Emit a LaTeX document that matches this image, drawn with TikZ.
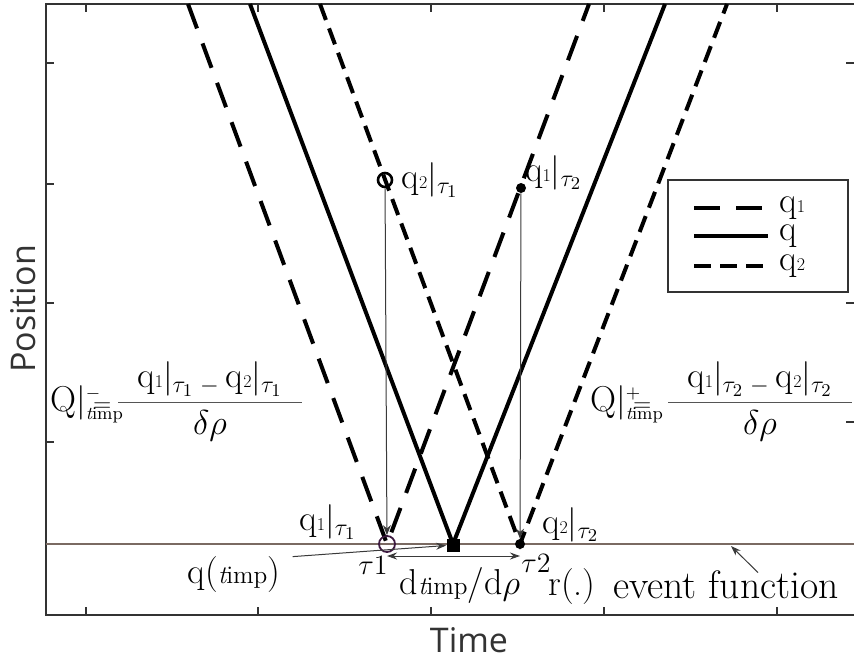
\documentclass[tikz,border=0pt]{standalone}
\usepackage{fontspec}
\usepackage{graphicx}
\usepackage{tikz}
\usetikzlibrary{arrows.meta,positioning}
\newfontfamily\axisfont{Open Sans}
\definecolor{axgray}{HTML}{333333}
\definecolor{evbrown}{HTML}{7A6A62}
\definecolor{thingray}{HTML}{3A3A3A}
\definecolor{tauplum}{HTML}{3D1A40}
\definecolor{fracgray}{HTML}{555555}
\newcommand{\qi}[1]{q\scalebox{.5}{#1}}
\newcommand{\tm}{\mathit{t}\mathrm{imp}}
\tikzset{
  axframe/.style={draw=axgray,line width=0.8pt},
  axtick/.style={draw=axgray,line width=0.6pt},
  traj/.style={line width=2pt},
  qone/.style={traj,dash pattern=on 13pt off 8pt},
  qtwo/.style={traj,dash pattern=on 8.5pt off 4.5pt},
  qsol/.style={traj},
  evline/.style={draw=evbrown,line width=1pt},
  hollow/.style={circle,draw=black,line width=1.3pt,minimum size=7pt,inner sep=0pt},
  dot/.style={circle,fill=black,minimum size=5pt,inner sep=0pt},
  sq/.style={rectangle,fill=black,minimum size=6.5pt,inner sep=0pt},
  drop/.style={draw=thingray,line width=0.5pt,-{Stealth[length=5pt,width=4pt]}},
  pointer/.style={draw=thingray,line width=0.5pt,-{Stealth[length=5pt,width=3.5pt]}},
  dbl/.style={pointer,{Stealth[length=5pt,width=3.5pt]}-{Stealth[length=5pt,width=3.5pt]}},
  lbl/.style={inner sep=0pt,font=\fontsize{18}{21}\selectfont},
  taulbl/.style={inner sep=0pt,font=\fontsize{14}{16}\selectfont},
  axlbl/.style={inner sep=0pt,font=\axisfont\fontsize{17}{20}\selectfont,text=axgray},
}
\begin{document}
\begin{tikzpicture}[x=0.5pt,y=-0.5pt]
\useasboundingbox (0,0) rectangle (854,664);
\draw[axframe] (46,4) rectangle (856,615);
\foreach \x in {86,258,431,604,777}
  \draw[axtick] (\x,4) -- (\x,12) (\x,615) -- (\x,607);
\foreach \y in {63,184,303,442}
  \draw[axtick] (46,\y) -- (54,\y);
\foreach \y in {63,303,422}
  \draw[axtick] (854,\y) -- (846,\y);
\coordinate (evL) at (46,544);
\coordinate (evR) at (856,544);
\coordinate (t1) at (387,544);
\coordinate (imp) at (453,544);
\coordinate (t2) at (520,544);
\draw[evline] (evL) -- (evR);
\draw[qone] (188,4) -- (t1) -- (589,4);
\draw[qsol] (250,4) -- (imp) -- (665,4);
\draw[qtwo] (320,4) -- (t2) -- (727,4);
\node[hollow] (m21) at (385,180) {};
\node[dot] (m12) at (521,188) {};
\node[hollow,draw=tauplum,line width=0.9pt,minimum size=8pt] (m11) at (t1) {};
\node[dot] (m22) at (t2) {};
\node[sq] (impsq) at (453,545) {};
\draw[drop] (m21) -- (m11);
\draw[drop] (m12) -- (m22);
\node[lbl,right=4pt of m21] (l21) {\qi{2}$|_{\tau_1}$};
\node[lbl,above right=-3pt and 0pt of m12] (l12) {\qi{1}$|_{\tau_2}$};
\node[lbl,above left=-1pt and 12pt of m11] (l11) {\qi{1}$|_{\tau_1}$};
\node[lbl,above right=-1pt and 9pt of m22] (l22) {\qi{2}$|_{\tau_2}$};
\node[taulbl,anchor=north east] (lt1) at (388,555) {$\tau$1};
\node[taulbl,anchor=north west] (lt2) at (521,553) {$\tau$2};
\node[lbl] (lrate) at (460,585) {d$\scriptstyle\tm$/d$\rho$};
\node[lbl] (lr) at (572,587) {r(.)};
\node[lbl,font=\fontsize{19.8}{22}\selectfont] (evf) at (726,585) {event function};
\node[lbl] (qimp) at (234,575) {q(${\scriptstyle\tm}$)};
\coordinate (evhit) at (731,546);
\draw[pointer] ([xshift=6pt]qimp.north east) -- (impsq);
\draw[dbl] ([yshift=-6pt]t1) -- ([yshift=-6pt]t2);
\draw[pointer] ([xshift=16pt,yshift=-1pt]evf.north) -- (evhit);
\node[lbl,anchor=base west] (QLl) at (50,411) {$\mathrm{Q}|^{\scriptscriptstyle -}_{\scriptscriptstyle\tm}\mkern-16mu{\scriptstyle=}$};
\node[lbl,anchor=base] (QLfrac) at (210,411) {\color{fracgray}$\displaystyle\frac{\makebox[92pt]{\color{black}\qi{1}$|_{\tau_1}$\,$_-$\,\qi{2}$|_{\tau_1}$}}{\color{black}\delta\rho}$};
\node[lbl,anchor=base west] (QRl) at (590,411) {$\mathrm{Q}|^{\scriptscriptstyle +}_{\scriptscriptstyle\tm}\mkern-16mu{\scriptstyle=}$};
\node[lbl,anchor=base] (QRfrac) at (760,411) {\color{fracgray}$\displaystyle\frac{\makebox[92pt]{\color{black}\qi{1}$|_{\tau_2}$\,$_-$\,\qi{2}$|_{\tau_2}$}}{\color{black}\delta\rho}$};
\draw[axframe,fill=white] (668,180) rectangle (848,292);
\draw[qone] (694,208) -- (768,208);
\draw[qsol] (694,236) -- (768,236);
\draw[qtwo] (694,266) -- (768,266);
\node[lbl,anchor=mid west] (lg1) at (779,208) {\qi{1}};
\node[lbl,anchor=mid west] (lg2) at (779,236) {q};
\node[lbl,anchor=mid west] (lg3) at (779,266) {\qi{2}};
\node[axlbl,rotate=90] (ylab) at (23,309) {Position};
\node[axlbl] (xlab) at (469,640) {Time};
\end{tikzpicture}
\end{document}
